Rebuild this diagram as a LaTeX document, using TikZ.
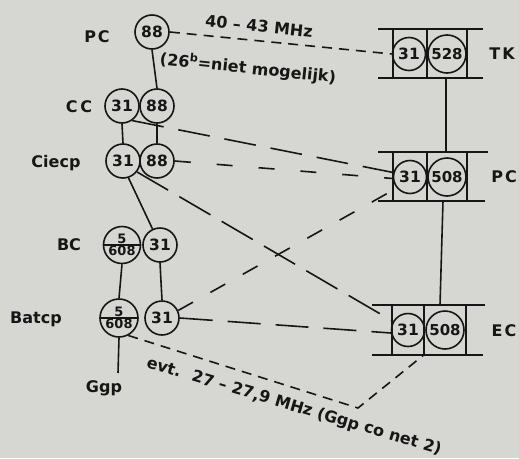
\documentclass[tikz,border=0pt]{standalone}
\usepackage{fontspec}
\setmainfont{DejaVu Sans}
\definecolor{paper}{RGB}{214,214,211}
\definecolor{inkc}{RGB}{22,22,22}
\begin{document}
\begin{tikzpicture}[x=1pt,y=-1pt,
  ln/.style={line width=1.6pt, draw=inkc},
  boxln/.style={line width=1.9pt, draw=inkc},
  circ/.style={circle, draw=inkc, line width=1.6pt, inner sep=0pt, minimum size=34pt,
    font=\bfseries\fontsize{15.5}{15.5}\selectfont, text=inkc},
  bigc/.style={circ, minimum size=38pt, font=\bfseries\fontsize{15}{15}\selectfont},
  split/.style={circ, minimum size=37pt, align=center,
    font=\bfseries\fontsize{13}{14}\selectfont,
    path picture={\draw[line width=1.5pt, draw=inkc] (path picture bounding box.west) -- (path picture bounding box.east);}},
  lbl/.style={font=\bfseries\fontsize{16}{16}\selectfont, text=inkc, inner sep=0pt},
  dshort/.style={ln, dash pattern=on 10pt off 7pt}
]
\fill[paper] (0,0) rectangle (519,458);
\useasboundingbox (0,0) rectangle (519,458);

% left column circles
\node[circ] (PC88) at (152,32) {88};
\node[circ] (CC31) at (122,106) {31};
\node[circ] (CC88) at (157,106) {88};
\node[circ] (Ci31) at (123,161) {31};
\node[circ] (Ci88) at (157,161) {88};
\node[split] (BC5) at (122,245) {5\\[-2pt]608};
\node[circ] (BC31) at (160,245) {31};
\node[split, minimum size=38pt] (Bat5) at (119,318) {5\\[-2pt]608};
\node[circ] (Bat31) at (162,318) {31};
\coordinate (GgpEnd) at (118,373);

% left labels
\node[lbl] (lPC) at (97,37) {P\kern2pt C};
\node[lbl] (lCC) at (79,107) {C\kern3pt C};
\node[lbl] (lCi) at (56,163) {Ciecp};
\node[lbl] (lBC) at (69,245) {BC};
\node[lbl] (lBat) at (36,319) {Batcp};
\node[lbl] (lGgp) at (104,388) {Ggp};

% left solid connectors
\draw[ln] (PC88.south) -- (CC88.north);
\draw[ln] (CC31.south) -- (Ci31.north);
\draw[ln] (CC88.south) -- (Ci88.north);
\draw[ln] (Ci31.-72) -- (BC31.115);
\draw[ln] (BC5.south) -- (Bat5.north);
\draw[ln] (BC31.south) -- (Bat31.north);
\draw[ln] (Bat5.south) -- (GgpEnd);

% right boxes
\node[circ, minimum size=33pt] (TK31) at (409,54) {31};
\node[bigc] (TK528) at (447,54) {528};
\node[circ, minimum size=33pt] (PC31) at (410,177) {31};
\node[bigc] (PC508) at (447,177) {508};
\node[circ, minimum size=33pt] (EC31) at (408,330) {31};
\node[bigc] (EC508) at (445,330) {508};

\draw[boxln] (378,29) -- (483,29) (378,78) -- (483,78)
  (393,29) -- (393,78) (427,29) -- (427,78) (467,29) -- (467,78);
\draw[boxln] (378,152) -- (488,152) (378,201) -- (485,201)
  (393,152) -- (393,201) (427,152) -- (427,201) (467,152) -- (467,201);
\draw[boxln] (372,305) -- (485,305) (372,355) -- (483,355)
  (392,305) -- (392,355) (424,305) -- (424,355) (466,305) -- (466,355);

\node[lbl] (lTK) at (502,54) {T\kern2pt K};
\node[lbl] (lPCr) at (504,177) {P\kern2pt C};
\node[lbl] (lEC) at (504,331) {E\kern2pt C};

\coordinate (TKbot) at (446,78);
\coordinate (PCtop) at (446,152);
\coordinate (PCbot) at (443,201);
\coordinate (ECtop) at (440,305);
\draw[ln] (TKbot) -- (PCtop);
\draw[ln] (PCbot) -- (ECtop);

% dashed connectors
\draw[dshort] (PC88.east) -- (TK31.west);
\draw[ln, dash pattern=on 32pt off 15pt] (CC31.-55) -- (PC31.165);
\draw[ln, dash pattern=on 16pt off 26pt] (Ci88.east) -- (PC31.185);
\draw[ln, dash pattern=on 36pt off 13pt] (Ci31.-38) -- (EC31.150);
\draw[ln, dash pattern=on 17pt off 20pt] (Bat31.25) -- (PC31.220);
\draw[ln, dash pattern=on 33pt off 15pt] (Bat31.east) -- (EC31.190);
\coordinate (vtx) at (358,408);
\coordinate (ECbl) at (425,354);
\draw[dshort] (Bat5.-62) -- (vtx) -- (ECbl);

% frequency texts
\node[lbl, rotate=-6] (f1) at (259,26) {40 – 43 MHz};
\node[lbl, rotate=-6] (f2) at (248,68) {(26\textsuperscript{b}=niet mogelijk)};
\node[lbl, rotate=-16.5] (f3) at (294,407) {evt.\hspace{12pt}27 – 27,9 MHz (Ggp co net 2)};
\end{tikzpicture}
\end{document}
